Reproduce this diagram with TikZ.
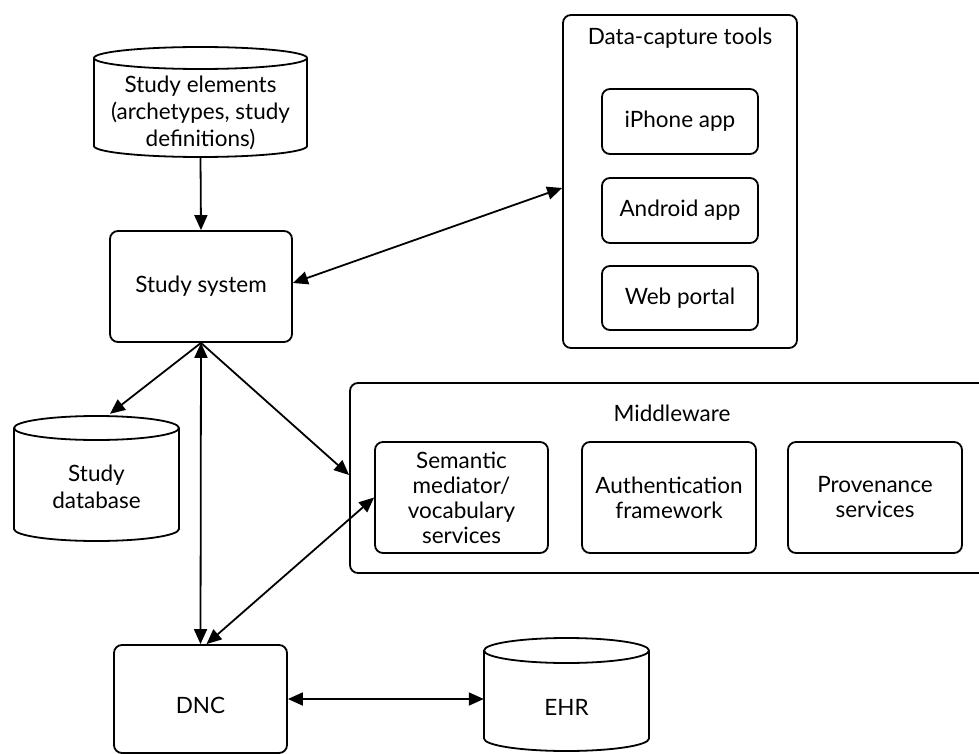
\documentclass[tikz,border=0pt]{standalone}
\usepackage{fontspec}
\setmainfont{Lato}
\usetikzlibrary{arrows.meta}
\begin{document}
\begin{tikzpicture}[x=1pt,y=1pt,
  box/.style={draw, line width=1.8pt, rounded corners=8pt, fill=white, align=center, inner sep=0pt},
  cyl/.style={draw, line width=1.8pt, fill=white},
  lbl/.style={align=center, inner sep=0pt},
  con/.style={line width=1.8pt},
  tip/.style={-{Triangle[length=15pt,width=13pt]}},
  both/.style={{Triangle[length=15pt,width=13pt]}-{Triangle[length=15pt,width=13pt]}},
  font=\fontsize{22.5}{25}\selectfont]
\useasboundingbox (0,0) rectangle (979,-754);

% cylinders
\draw[cyl] (94,-58) -- (94,-146) arc[start angle=180,end angle=360,x radius=106.5,y radius=11] -- (307,-58) arc[start angle=0,end angle=180,x radius=106.5,y radius=11] -- cycle;
\draw[cyl] (94,-58) arc[start angle=180,end angle=360,x radius=106.5,y radius=11];
\node[lbl, minimum width=213pt, minimum height=88pt, font=\fontsize{22.5}{27}\selectfont] (se) at (200.5,-113) {Study elements\\(archetypes, study\\definitions)};

\draw[cyl] (14,-428) -- (14,-529) arc[start angle=180,end angle=360,x radius=82.5,y radius=12] -- (179,-428) arc[start angle=0,end angle=180,x radius=82.5,y radius=12] -- cycle;
\draw[cyl] (14,-428) arc[start angle=180,end angle=360,x radius=82.5,y radius=12];
\node[lbl, minimum width=165pt, minimum height=125pt] (sdb) at (96.5,-478.5) {};
\node[lbl, font=\fontsize{22.5}{27}\selectfont] (sdbt) at (96.5,-487) {Study\\database};

\draw[cyl] (484,-650.5) -- (484,-738.5) arc[start angle=180,end angle=360,x radius=82.5,y radius=12.5] -- (649,-650.5) arc[start angle=0,end angle=180,x radius=82.5,y radius=12.5] -- cycle;
\draw[cyl] (484,-650.5) arc[start angle=180,end angle=360,x radius=82.5,y radius=12.5];
\node[lbl, minimum width=165pt, minimum height=113pt] (ehr) at (566.5,-694.5) {};
\node[lbl] (ehrt) at (566.5,-707) {EHR};

% boxes
\node[box, minimum width=182pt, minimum height=111pt] (ss) at (201,-286.5) {Study system};

\node[box, minimum width=234pt, minimum height=333pt] (dct) at (680,-181.5) {};
\node[lbl] (dctt) at (680,-38) {Data-capture tools};
\node[box, minimum width=156pt, minimum height=65pt] (iph) at (680,-121.5) {iPhone app};
\node[box, minimum width=156pt, minimum height=65pt] (andr) at (680,-210.5) {Android app};
\node[box, minimum width=156pt, minimum height=64pt] (web) at (680,-298) {Web portal};

\node[box, minimum width=645pt, minimum height=190pt] (mw) at (672.5,-478) {};
\node[lbl] (mwt) at (672,-413) {Middleware};
\node[box, minimum width=173pt, minimum height=111pt] (sem) at (461.5,-497.5) {Semantic\\mediator/\\vocabulary\\services};
\node[box, minimum width=174pt, minimum height=111pt] (auth) at (669,-497.5) {Authentication\\framework};
\node[box, minimum width=174pt, minimum height=111pt] (prov) at (875,-497.5) {Provenance\\services};

\node[box, minimum width=173pt, minimum height=108pt] (dnc) at (200.5,-699) {};
\node[lbl] (dnct) at (200.5,-705) {DNC};

% connectors
\draw[con,tip] (se.south) -- (ss.north);
\draw[con,both] ([yshift=3.5pt]ss.east) -- ([yshift=-6.5pt]dct.west);
\draw[con,tip] (ss.south) -- ([xshift=13.5pt,yshift=2pt]sdb.north);
\draw[con,tip] (ss.south) -- ([yshift=3pt]mw.west);
\draw[con,both] (ss.south) -- (dnc.north);
\draw[con,both] (sem.west) -- ([xshift=6pt]dnc.north);
\draw[con,both] (dnc.east) -- (dnc.east -| ehr.west);
\end{tikzpicture}
\end{document}
